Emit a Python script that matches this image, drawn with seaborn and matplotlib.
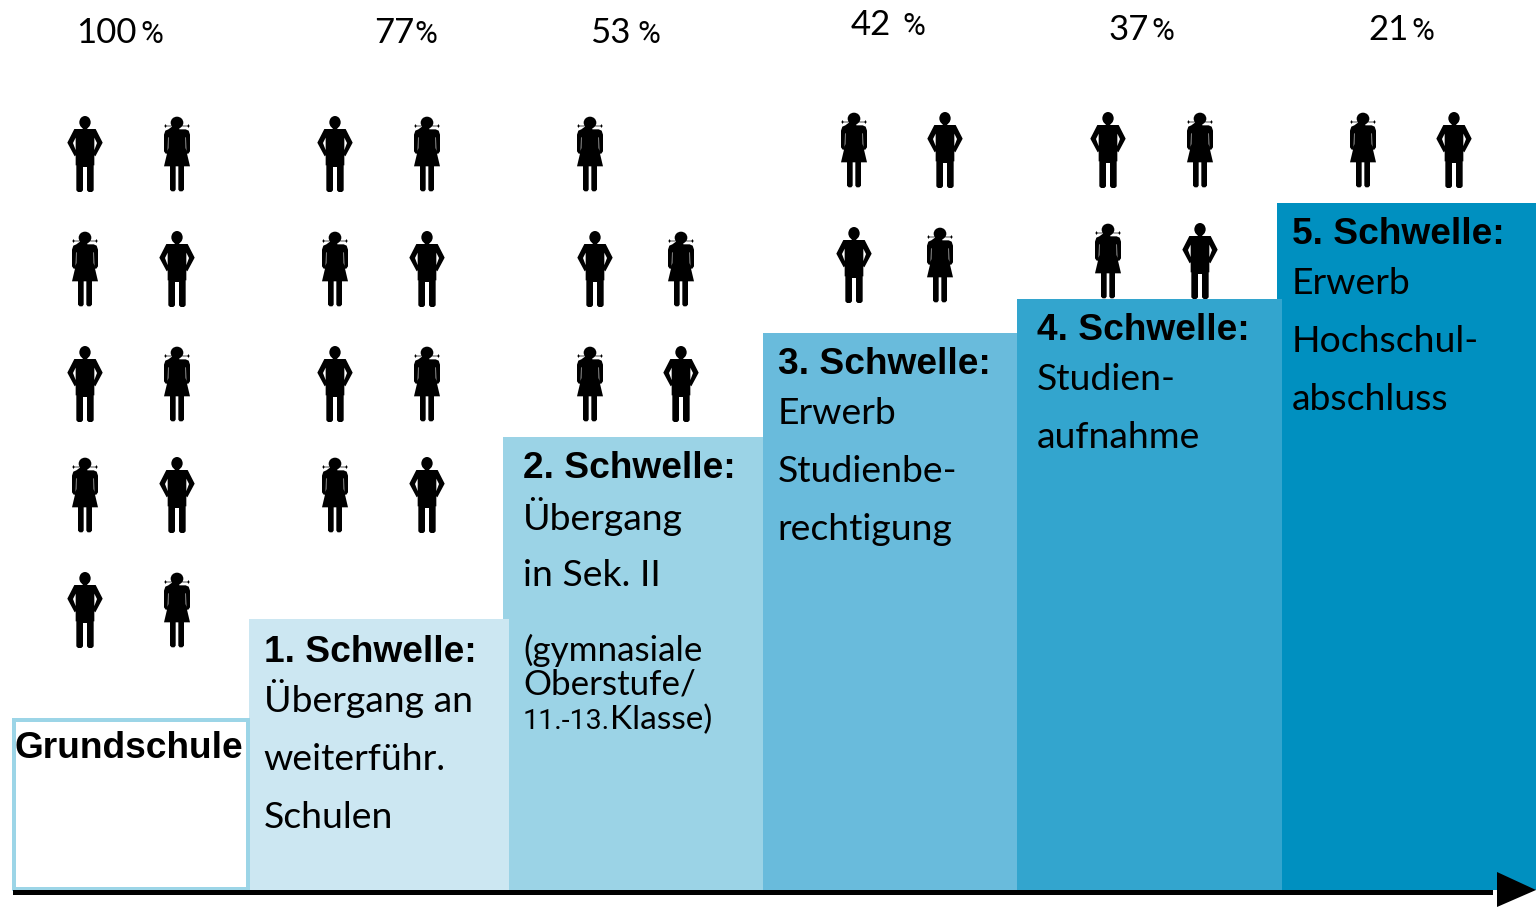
import matplotlib
matplotlib.use("Agg")
import matplotlib.pyplot as plt
from matplotlib.path import Path
import numpy as np
import pandas as pd
import seaborn as sns

# ---------- data ----------
stages = ["Grundschule", "1. Schwelle", "2. Schwelle", "3. Schwelle", "4. Schwelle", "5. Schwelle"]
step_heights = [170, 271, 453, 557, 591, 687]
percent_values = ["100", "77", "53", "42", "37", "21"]
percent_sign = "%"
titles = ["Grundschule", "1. Schwelle:", "2. Schwelle:", "3. Schwelle:", "4. Schwelle:", "5. Schwelle:"]
descriptions = [[],
                ["Übergang an", "weiterführ.", "Schulen"],
                ["Übergang", "in Sek. II"],
                ["Erwerb", "Studienbe-", "rechtigung"],
                ["Studien-", "aufnahme"],
                ["Erwerb", "Hochschul-", "abschluss"]]
note_lines = ["(gymnasiale", "Oberstufe/"]
note_last = ["11.-13.", "Klasse)"]

male_x = [85, 85, 85, 177, 177, 335, 335, 427, 427, 595, 681, 945, 854, 1108, 1200, 1454]
male_y = [154, 384, 610, 269, 495, 154, 384, 269, 495, 269, 384, 150, 265, 150, 261, 150]
female_x = [177, 177, 177, 85, 85, 427, 427, 335, 335, 590, 681, 590, 854, 940, 1200, 1108, 1363]
female_y = [154, 384, 610, 269, 495, 154, 384, 269, 495, 154, 269, 384, 150, 265, 150, 261, 150]

# ---------- styling / layout ----------
bar_colors = ["#FFFFFF", "#CCE7F2", "#9BD3E6", "#69BBDC", "#33A5CE", "#0090C0"]
bar_edges = [(14, 248), (249, 509), (503, 763), (763, 1017), (1017, 1282), (1277, 1536)]
bar_z = [7, 6, 5, 4, 3, 2]
W, H, BASE = 1536, 907, 890
REG = ["Lato", "DejaVu Sans"]
BOLD = ["Liberation Sans", "DejaVu Sans"]
ALT = ["Roboto", "Liberation Sans", "DejaVu Sans"]
REG_SIZE, BOLD_SIZE, NOTE_SIZE, PCT_SIZE, SIGN_SIZE = 26.9, 26.75, 25.2, 25, 22.5

pct_pos = [(76, 43), (374, 43), (590, 43), (851, 35), (1109, 40), (1368, 40)]
sign_x = [140, 414, 637, 902, 1151, 1411]
title_pos = [(15, 757.5), (264, 661.5), (523, 477.5), (778, 373.5), (1037, 339.5), (1292, 243.5)]
desc_x = [15, 263.5, 523, 777.5, 1036.5, 1291.5]
desc_base = [[], [711.5, 769.5, 827.5], [529.5, 586.5], [424.5, 481.5, 539.5], [390.5, 447.5], [294.5, 352.5, 409.5]]
note_base = [661, 695]
last_base = 729
last_x = [523, 610]


def py(p):
    return BASE - p


def poly(pts):
    pts = list(pts) + [pts[0]]
    return Path(np.array(pts, float), closed=True)


def ellipse(cx, cy, rx, ry):
    c = Path.unit_circle()
    v = c.vertices * [rx, ry] + [cx, cy]
    return Path(v, c.codes)


def icon(parts, cy, half):
    c = Path.make_compound_path(*parts)
    v = c.vertices.copy()
    v[:, 1] = (cy - v[:, 1]) / half
    v[:, 0] = v[:, 0] / half
    return Path(v, c.codes)


male_poly = [(-7, 60), (7, 60), (7, 71), (32, 71), (53, 112), (31, 153), (24, 145), (36, 113), (28, 97), (28, 180),
             (26, 180), (26, 255), (21, 260), (11, 260), (6, 255), (6, 185), (-6, 185), (-6, 255), (-11, 260),
             (-21, 260), (-26, 255), (-26, 180), (-28, 180), (-28, 97), (-36, 113), (-24, 145), (-31, 153),
             (-53, 112), (-32, 71), (-7, 71)]
male_marker = icon([poly(male_poly), ellipse(0, 51, 17, 19)], 146, 114)

female_poly = [(-7, 60), (7, 60), (7, 74), (26, 74), (35, 78), (39, 90), (39, 140), (34, 147), (30, 147), (28, 138),
               (27, 98), (25.5, 98), (26, 130), (39, 185), (21, 185), (21, 255), (16, 260), (8, 260), (4, 255),
               (4, 185), (-4, 185), (-4, 255), (-8, 260), (-16, 260), (-21, 255), (-21, 185), (-39, 185),
               (-26, 130), (-25.5, 98), (-27, 98), (-28, 138), (-30, 147), (-34, 147), (-39, 140), (-39, 90),
               (-35, 78), (-26, 74)]
female_parts = [poly(female_poly), ellipse(0, 54, 19, 18),
                poly([(-36, 58), (-31, 63), (-16, 63), (-16, 65), (-31, 65), (-36, 70), (-36, 65), (-39, 65),
                      (-39, 63), (-36, 63)]),
                poly([(36, 58), (36, 63), (39, 63), (39, 65), (36, 65), (36, 70), (31, 65), (16, 65), (16, 63),
                      (31, 63)])]
female_marker = icon(female_parts, 148, 112)

# ---------- figure ----------
sns.set_theme(style="white")
fig = plt.figure(figsize=(W / 100, H / 100), dpi=100)
ax = fig.add_axes([0, 0, 1, 1])

df = pd.DataFrame({"stage": stages, "height": step_heights})
sns.barplot(data=df, x="stage", y="height", hue="stage", palette=bar_colors, legend=False,
            width=1, ax=ax, saturation=1)

for cont, (l, r), z in zip(ax.containers, bar_edges, bar_z):
    b = cont[0]
    b.set_x(l)
    b.set_width(r - l)
    b.set_zorder(z)
    b.set_linewidth(0)

g = ax.containers[0][0]
g.set_y(1.5)
g.set_height(step_heights[0] - 1)
g.set_edgecolor("#9CD5E7")
g.set_linewidth(2.88)

ax.axis("off")

# axis arrow
ax.fill_between([13, 1493], py(895), py(890), color="black", lw=0, zorder=8)
ax.fill([1497, 1536, 1497], [py(872), py(890), py(907)], color="black", lw=0, zorder=8)

# pictograms
sns.scatterplot(x=male_x, y=[py(v) for v in male_y], marker=male_marker, s=(2 * 38 * .72) ** 2,
                color="black", edgecolor="none", linewidth=0, ax=ax, zorder=9, legend=False)
sns.scatterplot(x=female_x, y=[py(v) for v in female_y], marker=female_marker, s=(2 * 37.33 * .72) ** 2,
                color="black", edgecolor="none", linewidth=0, ax=ax, zorder=9, legend=False)
ax.set_xlim(0, W)
ax.set_ylim(BASE - H, BASE)

# texts
for lab, (x, y), sx in zip(percent_values, pct_pos, sign_x):
    ax.text(x, py(y), lab, family=REG, fontsize=PCT_SIZE, color="black", va="baseline", ha="left", zorder=10)
    ax.text(sx, py(y), percent_sign, family=ALT, fontsize=SIGN_SIZE, color="black", va="baseline", ha="left",
            zorder=10)
for t, (x, y), dx, lines, bases in zip(titles, title_pos, desc_x, descriptions, desc_base):
    ax.text(x, py(y), t, family=BOLD, fontweight="bold", fontsize=BOLD_SIZE, color="black",
            va="baseline", ha="left", zorder=10)
    for ln, b in zip(lines, bases):
        ax.text(dx, py(b), ln, family=REG, fontsize=REG_SIZE, color="black", va="baseline", ha="left", zorder=10)
for ln, b in zip(note_lines, note_base):
    ax.text(523, py(b), ln, family=REG, fontsize=NOTE_SIZE, color="black", va="baseline", ha="left", zorder=10)
ax.text(last_x[0], py(last_base), note_last[0], family=ALT, fontsize=20.5, color="black", va="baseline",
        ha="left", zorder=10)
ax.text(last_x[1], py(last_base), note_last[1], family=REG, fontsize=24, color="black", va="baseline",
        ha="left", zorder=10)

fig.savefig("out.png", dpi=100, facecolor="white")
